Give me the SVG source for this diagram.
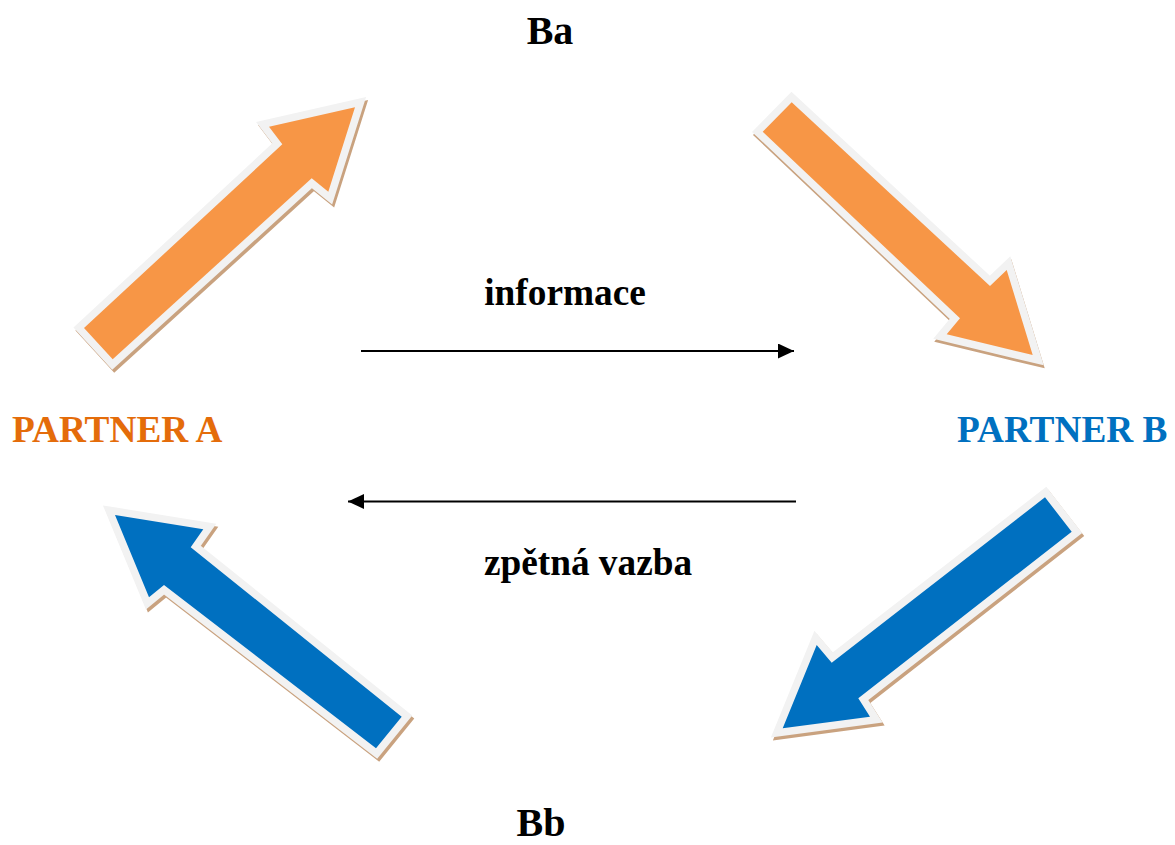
<svg xmlns="http://www.w3.org/2000/svg" width="1175" height="845" viewBox="0 0 1175 845">
  <style>
    .lbl { font-family: "Liberation Serif", "Times New Roman", serif; font-weight: bold; }
    .shadow { fill: #c9a27f; stroke: #c9a27f; stroke-width: 15; stroke-linejoin: miter; }
    .orange { fill: #f79646; stroke: #f2f2f2; stroke-width: 15; stroke-linejoin: miter; paint-order: stroke; }
    .blue { fill: #0070c0; stroke: #f2f2f2; stroke-width: 15; stroke-linejoin: miter; paint-order: stroke; }
    .line { stroke: #000; stroke-width: 2.2; fill: none; }
  </style>
  <defs>
    <marker id="head" markerUnits="userSpaceOnUse" markerWidth="18" markerHeight="16" refX="16" refY="7.5" orient="auto">
      <path d="M0,0 L16,7.5 L0,15 Z" fill="#000"/>
    </marker>
  </defs>
  <rect width="1175" height="845" fill="#fff"/>

  <g id="connectors">
    <g id="arrow-a-ba">
      <polygon class="shadow" transform="translate(2,3)" points="84,328 282.3,144.3 269,126.7 355,107.3 328.3,191.7 311.7,178.3 112.7,359.3"/>
      <polygon class="orange" points="84,328 282.3,144.3 269,126.7 355,107.3 328.3,191.7 311.7,178.3 112.7,359.3"/>
    </g>
    <g id="arrow-ba-b">
      <polygon class="shadow" transform="translate(1,3)" points="762.7,131.7 791.7,102.3 990,286 1006.7,270 1032.7,355 946.7,334.3 960,318.3"/>
      <polygon class="orange" points="762.7,131.7 791.7,102.3 990,286 1006.7,270 1032.7,355 946.7,334.3 960,318.3"/>
    </g>
    <g id="arrow-b-bb">
      <polygon class="shadow" transform="translate(2,3)" points="1045,497.3 1071.7,531.7 858.3,698.3 870,716.7 782.7,728.3 816.7,645 831.7,662.7"/>
      <polygon class="blue" points="1045,497.3 1071.7,531.7 858.3,698.3 870,716.7 782.7,728.3 816.7,645 831.7,662.7"/>
    </g>
    <g id="arrow-bb-a">
      <polygon class="shadow" transform="translate(2,3)" points="115,515 203.3,529.3 190.7,547.3 401.7,716.7 376,748.3 164,585 149,597.3"/>
      <polygon class="blue" points="115,515 203.3,529.3 190.7,547.3 401.7,716.7 376,748.3 164,585 149,597.3"/>
    </g>
    <line id="arrow-info" class="line" x1="361" y1="351" x2="794" y2="351" marker-end="url(#head)"/>
    <line id="arrow-feedback" class="line" x1="796" y1="501.5" x2="348" y2="501.5" marker-end="url(#head)"/>
  </g>

  <g id="node-ba"><text class="lbl" x="550" y="43.5" font-size="40" text-anchor="middle" fill="#000">Ba</text></g>
  <g id="node-bb"><text class="lbl" x="541" y="836" font-size="40" text-anchor="middle" fill="#000">Bb</text></g>
  <g id="node-partner-a"><text class="lbl" x="12" y="441.5" font-size="37.3" fill="#e46c0a">PARTNER A</text></g>
  <g id="node-partner-b"><text class="lbl" x="957" y="441.5" font-size="37.3" fill="#0070c0">PARTNER B</text></g>
  <g id="label-info"><text class="lbl" x="565" y="305" font-size="37.3" text-anchor="middle" fill="#000">informace</text></g>
  <g id="label-feedback"><text class="lbl" x="588" y="575" font-size="37.3" text-anchor="middle" fill="#000">zpětná vazba</text></g>
</svg>
